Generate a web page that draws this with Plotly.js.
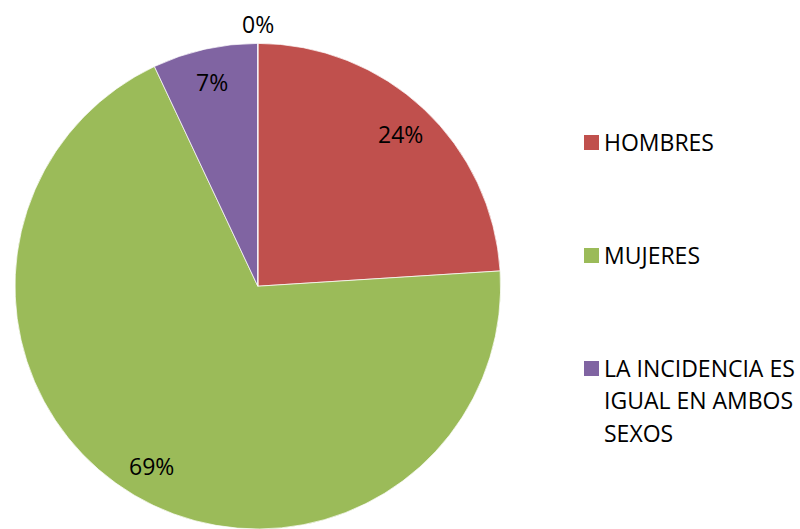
<!DOCTYPE html>
<html>
<head>
<meta charset="utf-8">
<script src="https://cdn.plot.ly/plotly-3.0.1.min.js"></script>
<style>html,body{margin:0;padding:0;background:#fff;}#chart{width:800px;height:529px;}</style>
</head>
<body>
<div id="chart"></div>
<script>
// ---- data ----
const categories = ['HOMBRES', 'MUJERES', 'LA INCIDENCIA ES IGUAL EN AMBOS SEXOS', ''];
const values = [24, 69, 7, 0];
const colors = ['#C0504D', '#9BBB59', '#8064A2', '#4F81BD'];
const legendLines = [['HOMBRES'], ['MUJERES'], ['LA INCIDENCIA ES', 'IGUAL EN AMBOS', 'SEXOS']];

// ---- layout geometry ----
const W = 800, H = 529;
const domX = [0.01875, 0.62575];
const domY = [0, 0.918];
const R = (domY[1] - domY[0]) * H / 2;
const cx = (domX[0] + domX[1]) / 2 * W;       // px from left
const cyB = (domY[0] + domY[1]) / 2 * H;      // px from bottom
const FONT = 'Open Sans, Lato, sans-serif';
const FS = 23;

const total = values.reduce((a, b) => a + b, 0);
const annotations = [];
let cum = 0;
values.forEach((v, i) => {
  const mid = (cum + v / 2) / total * 2 * Math.PI; // clockwise from 12 o'clock
  cum += v;
  const f = v > 0 ? 0.86 : 1.08;
  annotations.push({
    xref: 'paper', yref: 'paper',
    x: (cx + f * R * Math.sin(mid)) / W,
    y: (cyB + f * R * Math.cos(mid)) / H,
    xanchor: 'center', yanchor: 'middle',
    text: Math.round(v / total * 100) + '%',
    showarrow: false,
    font: {family: FONT, size: FS, color: '#000'}
  });
});

// ---- manual legend ----
const shapes = [];
const legTop = 142.5, legGap = 113, lineGap = 32.7;
legendLines.forEach((lines, i) => {
  const yc = legTop + i * legGap;
  shapes.push({
    type: 'rect', xref: 'paper', yref: 'paper',
    x0: 584 / W, x1: 599 / W,
    y0: (H - yc - 7.5) / H, y1: (H - yc + 7.5) / H,
    fillcolor: colors[i], line: {width: 0}
  });
  lines.forEach((t, j) => {
    annotations.push({
      xref: 'paper', yref: 'paper',
      x: 602 / W, y: (H - (yc - 1 + j * lineGap)) / H,
      xanchor: 'left', yanchor: 'middle',
      text: t, showarrow: false,
      font: {family: FONT, size: FS, color: '#000'}
    });
  });
});

const trace = {
  type: 'pie',
  labels: categories,
  values: values,
  marker: {colors: colors, line: {color: 'rgba(255,255,255,0.7)', width: 1}},
  sort: false,
  direction: 'clockwise',
  rotation: 0,
  textinfo: 'none',
  hoverinfo: 'label+percent',
  domain: {x: domX, y: domY},
  showlegend: false
};

const layout = {
  width: W, height: H,
  margin: {l: 0, r: 0, t: 0, b: 0},
  paper_bgcolor: '#fff',
  showlegend: false,
  annotations: annotations,
  shapes: shapes,
  font: {family: FONT}
};

Plotly.newPlot('chart', [trace], layout, {displayModeBar: false, staticPlot: true});
</script>
</body>
</html>
